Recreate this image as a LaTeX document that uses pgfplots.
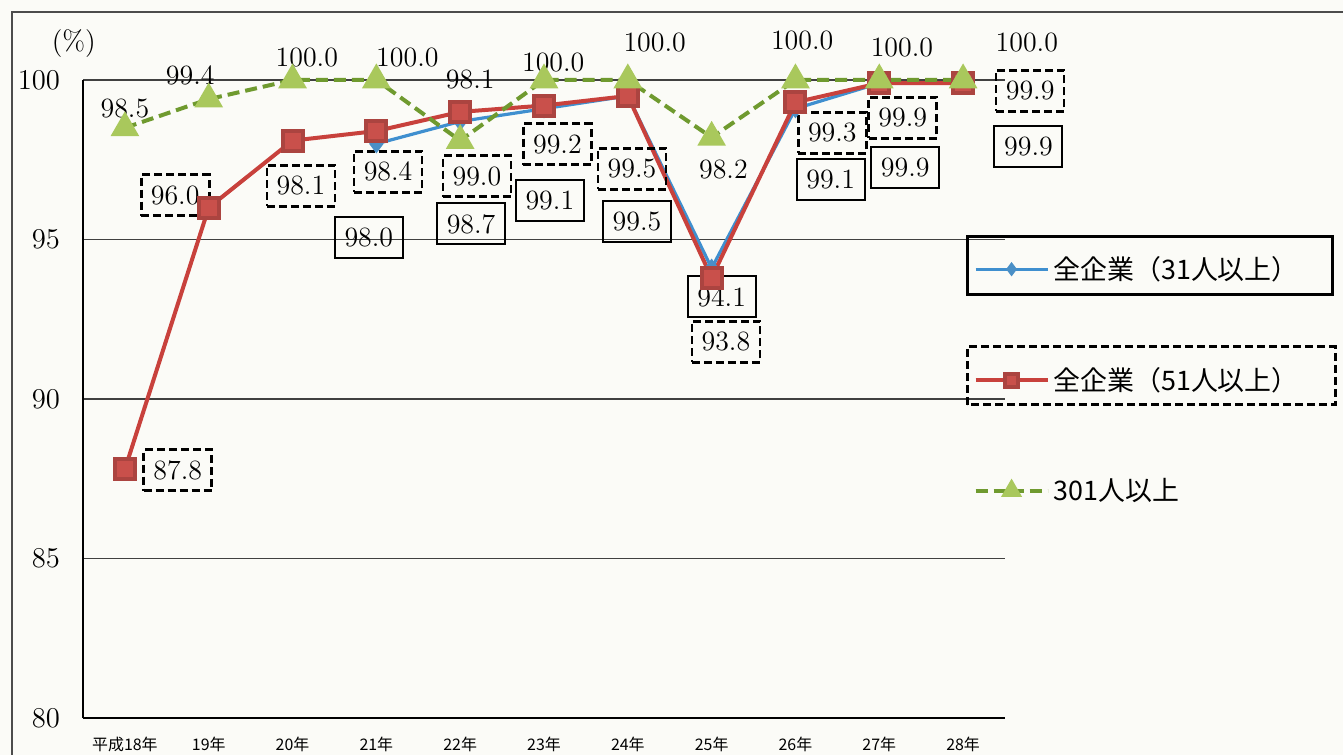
\documentclass[border=0pt]{standalone}
\usepackage{fontspec}
\usepackage{pgfplots}
\pgfplotsset{compat=1.18}
\newfontfamily\jp{Noto Sans CJK JP}
\definecolor{bline}{HTML}{3F8FCF}
\definecolor{bmark}{HTML}{4A8FC6}
\definecolor{rline}{HTML}{C8413C}
\definecolor{rmark}{HTML}{C9504B}
\definecolor{gline}{HTML}{6F9A2F}
\definecolor{gmark}{HTML}{A9C85C}
\definecolor{paper}{HTML}{FBFBF7}
\begin{document}
\begin{tikzpicture}[
  lab/.style={font=\fontsize{14}{16}\selectfont, inner sep=0pt},
  sbox/.style={lab, draw=black, line width=1bp, minimum width=34bp, minimum height=20.5bp},
  dbox/.style={lab, draw=black, line width=1.3bp, dash pattern=on 4bp off 2bp, minimum width=34bp, minimum height=20.5bp}]
\fill[paper] (0bp,0bp) rectangle (671.5bp,377.5bp);
\useasboundingbox (0bp,0bp) rectangle (671.5bp,377.5bp);
\draw[gray!60!black, line width=0.8bp] (6bp,-2bp) -- (6bp,371.5bp) -- (674bp,371.5bp);
\begin{axis}[
    at={(41.5bp,18.5bp)}, anchor=south west,
    scale only axis, width=461bp, height=319bp,
    xmin=-0.5, xmax=10.5, ymin=80, ymax=100,
    clip=false,
    axis x line=bottom, axis y line=left,
    axis line style={-, black, line width=0.8bp},
    major tick length=0pt,
    xtick={0,...,10},
    xticklabels={平成18年,19年,20年,21年,22年,23年,24年,25年,26年,27年,28年},
    xticklabel style={font=\jp\fontsize{8}{9}\selectfont, yshift=-6bp},
    ytick={80,85,90,95,100},
    yticklabel style={font=\fontsize{14}{16}\selectfont, xshift=-8bp},
    ymajorgrids,
    major grid style={gray!50!black, line width=0.7bp},
    legend style={at={(rel axis cs:0.959,0.737)}, anchor=north west, draw=none, fill=none,
      font=\jp\fontsize{13.5}{16}\selectfont, row sep=38.5bp, cells={anchor=west},
      nodes={inner sep=2bp}},
    legend image code/.code={\draw[mark repeat=2,mark phase=2,every mark/.append style={scale=0.65}] plot coordinates {(0bp,0bp) (18bp,0bp) (36bp,0bp)};},
  ]
\addplot[bline, line width=1.6bp, mark=diamond*, mark size=3.5bp, mark options={fill=bmark, draw=bmark}]
  coordinates {(3,98.0) (4,98.7) (5,99.1) (6,99.5) (7,94.1) (8,99.1) (9,99.9) (10,99.9)};
\addlegendentry{全企業（31人以上）}
\addplot[rline, line width=2bp, mark=square*, mark size=5bp, mark options={fill=rmark, draw=rmark!85!black}]
  coordinates {(0,87.8) (1,96.0) (2,98.1) (3,98.4) (4,99.0) (5,99.2) (6,99.5) (7,93.8) (8,99.3) (9,99.9) (10,99.9)};
\addlegendentry{全企業（51人以上）}
\addplot[gline, line width=2bp, dash pattern=on 6bp off 3bp, mark=triangle*, mark size=6.3bp, mark options={solid, fill=gmark, draw=gmark}]
  coordinates {(0,98.5) (1,99.4) (2,100) (3,100) (4,98.1) (5,100) (6,100) (7,98.2) (8,100) (9,100) (10,100)};
\addlegendentry{301人以上}

% 301人以上 labels
\node[lab] at (axis cs:0,99.12) {98.5};
\node[lab] at (axis cs:0.78,100.13) {99.4};
\node[lab] at (axis cs:2.17,100.72) {100.0};
\node[lab] at (axis cs:3.37,100.72) {100.0};
\node[lab] at (axis cs:4.12,100.0) {98.1};
\node[lab] at (axis cs:5.11,100.56) {100.0};
\node[lab] at (axis cs:6.32,101.16) {100.0};
\node[lab] at (axis cs:7.14,97.18) {98.2};
\node[lab] at (axis cs:8.08,101.25) {100.0};
\node[lab] at (axis cs:9.27,101.03) {100.0};
\node[lab] at (axis cs:10.76,101.16) {100.0};
% 51人以上 labels
\node[dbox] at (axis cs:0.63,87.77) {87.8};
\node[dbox] at (axis cs:0.60,96.39) {96.0};
\node[dbox] at (axis cs:2.10,96.68) {98.1};
\node[dbox] at (axis cs:3.14,97.12) {98.4};
\node[dbox] at (axis cs:4.20,96.99) {99.0};
\node[dbox] at (axis cs:5.16,97.99) {99.2};
\node[dbox] at (axis cs:6.05,97.21) {99.5};
\node[dbox] at (axis cs:7.17,91.79) {93.8};
\node[dbox] at (axis cs:8.44,98.34) {99.3};
\node[dbox] at (axis cs:9.28,98.81) {99.9};
\node[dbox] at (axis cs:10.80,99.66) {99.9};
% 31人以上 labels
\node[sbox] at (axis cs:2.91,95.05) {98.0};
\node[sbox] at (axis cs:4.13,95.49) {98.7};
\node[sbox] at (axis cs:5.07,96.21) {99.1};
\node[sbox] at (axis cs:6.11,95.55) {99.5};
\node[sbox] at (axis cs:7.12,93.20) {94.1};
\node[sbox] at (axis cs:8.42,96.87) {99.1};
\node[sbox] at (axis cs:9.31,97.27) {99.9};
\node[sbox] at (axis cs:10.78,97.93) {99.9};

\node[lab] at (axis cs:-0.61,101.13) {(\%)};
\end{axis}
\draw[black, line width=1.5bp] (483.5bp,230bp) rectangle (666bp,259bp);
\draw[black, line width=1.5bp, dash pattern=on 4bp off 2bp] (483.5bp,175bp) rectangle (667.5bp,204bp);
\end{tikzpicture}
\end{document}
